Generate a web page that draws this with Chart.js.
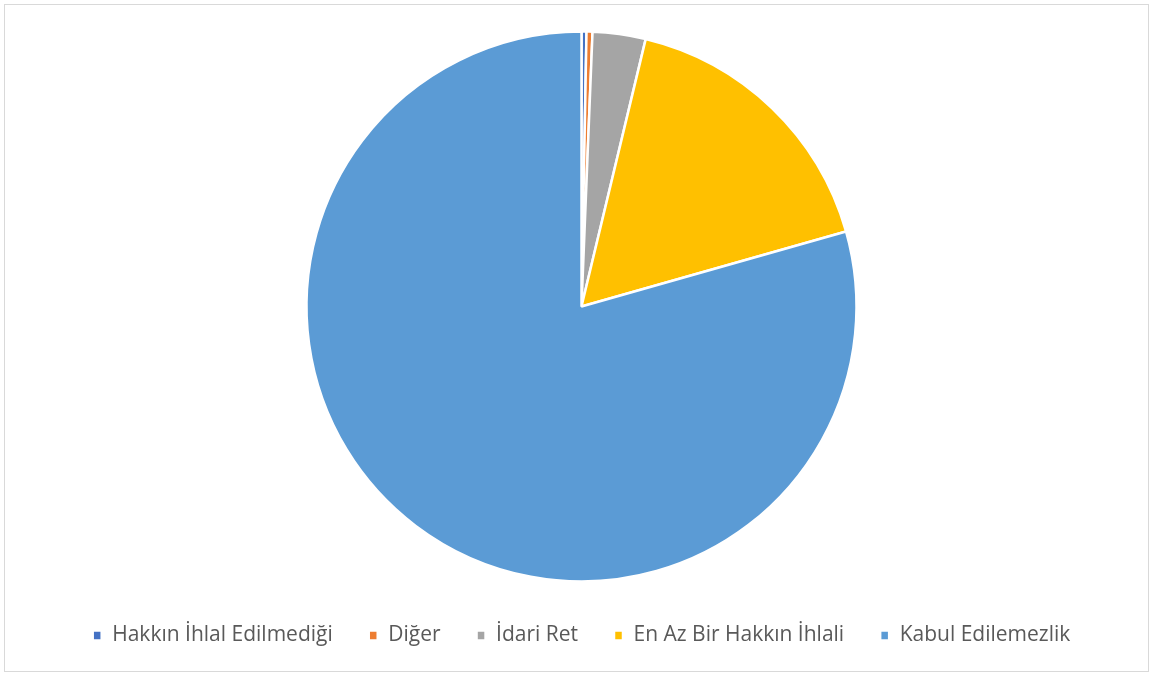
<!DOCTYPE html>
<html>
<head>
<meta charset="utf-8">
<script src="https://cdn.jsdelivr.net/npm/chart.js@4/dist/chart.umd.min.js"></script>
<style>
  html, body { margin: 0; padding: 0; background: #fff; }
  #frame { position: absolute; left: 4px; top: 4px; width: 1143px; height: 666px; border: 1px solid #d9d9d9; }
  #wrap { position: absolute; left: 0; top: 0; width: 1153px; height: 675px; }
</style>
</head>
<body>
<div id="frame"></div>
<div id="wrap"><canvas id="pasta"></canvas></div>
<script>
// kategoriler ve yüzdeler
const kategoriler = ["Hakkın İhlal Edilmediği", "Diğer", "İdari Ret", "En Az Bir Hakkın İhlali", "Kabul Edilemezlik"];
const degerler = [0.29, 0.35, 3.11, 16.85, 79.4];
const renkler = ["#4472C4", "#ED7D31", "#A5A5A5", "#FFC000", "#5B9BD5"];

const veri = {
    labels: kategoriler,
    datasets: [{
        data: degerler,
        backgroundColor: renkler,
        borderColor: "#ffffff",
        borderWidth: 2.5,
        radius: 275
    }]
};

const config = {
    type: 'pie',
    data: veri,
    options: {
        responsive: true,
        maintainAspectRatio: false,
        animation: false,
        layout: { padding: { left: 10, right: 0, top: 24, bottom: 19 } },
        plugins: {
            tooltip: { enabled: false },
            legend: {
                position: 'bottom',
                labels: {
                    font: { family: "'Open Sans'", size: 21 },
                    color: '#595959',
                    boxWidth: 9,
                    boxHeight: 10,
                    padding: 36
                }
            }
        }
    }
};

const pasta = new Chart(document.getElementById('pasta'), config);
</script>
</body>
</html>
